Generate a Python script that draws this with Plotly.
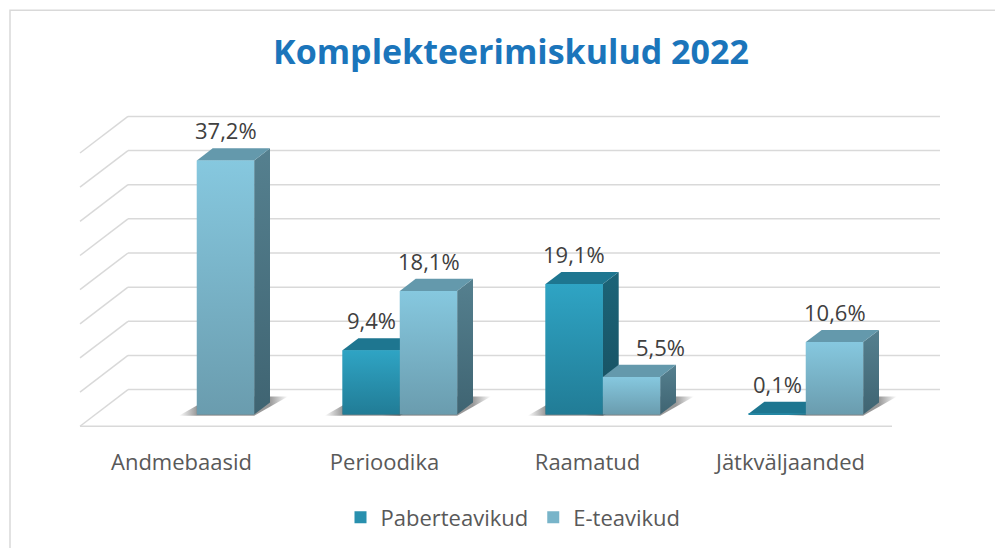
import plotly.graph_objects as go

# ---------------- data ----------------
categories = ["Andmebaasid", "Perioodika", "Raamatud", "Jätkväljaanded"]
paber = [None, 9.4, 19.1, 0.1]
e_teavikud = [37.2, 18.1, 5.5, 10.6]
series_names = ["Paberteavikud", "E-teavikud"]
grid_values = [0, 5, 10, 15, 20, 25, 30, 35, 40]
title_text = "Komplekteerimiskulud 2022"

# ---------------- geometry (pseudo 3D projection in axis units) ----------------
W, H = 1003, 548
OFF = 8                                  # page body margin
L, R, T, B = 60 - OFF, 960 - OFF, 100 - OFF, 439.5   # plot area in figure pixels
PX_CAT = 203.0                           # pixels per category
CAT0_PX = 181.5 - OFF                    # pixel x of first category (front plane)
PX_VAL = 6.84                            # pixels per value unit
ZERO_PX = 426.7 - OFF                    # pixel y of value 0 on front plane
DX = 48.0 / PX_CAT                       # full depth shift in category units
DY = 36.7 / PX_VAL                       # full depth shift in value units
T0, T1 = 0.32, 0.65                      # bar depth (front/back) as fraction of depth
BW = 57.3 / PX_CAT                       # bar width in category units
SH_X = 18.0 / PX_CAT                     # shadow spread (category units)
SH_Y = 6.0 / PX_VAL                      # shadow spread (value units)

xr = [(L - CAT0_PX) / PX_CAT, (R - CAT0_PX) / PX_CAT]
yr = [(ZERO_PX - B) / PX_VAL, (ZERO_PX - T) / PX_VAL]

def proj(x, v, t):
    return x + t * DX, v + t * DY

styles = {
    "Paberteavikud": dict(mid="#2890ae", front=("#217c96", "#2fa4c4"), top="#1e7690",
                          side=("#174f60", "#1c6478")),
    "E-teavikud": dict(mid="#78b4c9", front=("#6a9cae", "#86c8df"), top="#6499ac",
                       side=("#3f6472", "#55808f")),
}

fig = go.Figure()

# ---------------- walls / gridlines ----------------
shapes = []
grid_col = "#d9d9d9"
x_left, x_right = -0.5, len(categories) - 0.5
for v in grid_values:
    bx0, by = proj(x_left, v, 1)
    bx1, _ = proj(x_right, v, 1)
    shapes.append(dict(type="line", xref="x", yref="y", x0=bx0, y0=by, x1=bx1, y1=by,
                       line=dict(color=grid_col, width=1.5), layer="below"))
    fx, fy = proj(x_left, v, 0)
    shapes.append(dict(type="line", xref="x", yref="y", x0=fx, y0=fy, x1=bx0, y1=by,
                       line=dict(color=grid_col, width=1.5), layer="below"))
shapes.append(dict(type="line", xref="x", yref="y", x0=x_left, y0=0, x1=x_right, y1=0,
                   line=dict(color=grid_col, width=1.5), layer="below"))
# chart border
shapes.append(dict(type="rect", xref="paper", yref="paper",
                   x0=(2 - L) / (R - L), x1=(1010 - L) / (R - L),
                   y0=(B - 2) / (B - T), y1=(B - 560) / (B - T),
                   line=dict(color="#d9d9d9", width=1.5), layer="below"))

base = T0 * DY
ddx, ddy = (T1 - T0) * DX, (T1 - T0) * DY
all_vals = [paber, e_teavikud]

def bar_x0(s_idx, i):
    return i + T0 * DX - (BW if s_idx == 0 else 0)

# ---------------- bars: front faces as real bar traces ----------------
for s_idx, (name, vals) in enumerate(zip(series_names, all_vals)):
    fig.add_trace(go.Bar(
        x=list(range(len(categories))), y=vals, base=base, width=BW,
        offset=T0 * DX - BW if s_idx == 0 else T0 * DX,
        marker=dict(color=styles[name]["mid"], line=dict(width=0)),
        name=name, legendrank=s_idx,
        customdata=categories,
        hovertemplate="%{customdata}<br>" + name + ": %{y:.1f}%<extra></extra>"))

# ---------------- floor shadows (drawn first) ----------------
for s_idx, vals in enumerate(all_vals):
    for i, v in enumerate(vals):
        if v is None or v < 1:
            continue
        x0 = bar_x0(s_idx, i)
        x1 = x0 + BW
        sx0, sx1 = x0 - SH_X, x1 + ddx + SH_X
        f = SH_X / (sx1 - sx0)
        fig.add_trace(go.Scatter(
            x=[sx0, x1, sx1, x0 + ddx, sx0],
            y=[base - 0.2, base - 0.2, base + ddy + SH_Y, base + ddy + SH_Y, base - 0.2],
            mode="none", fill="toself",
            fillgradient=dict(type="horizontal", start=sx0, stop=sx1,
                              colorscale=[[0, "rgba(70,70,70,0)"],
                                          [f, "rgba(70,70,70,0.55)"],
                                          [1 - f, "rgba(70,70,70,0.55)"],
                                          [1, "rgba(70,70,70,0)"]]),
            showlegend=False, hoverinfo="skip"))

# ---------------- shading faces (side, top, gradient front) ----------------
annotations = []
for s_idx, (name, vals) in enumerate(zip(series_names, all_vals)):
    st = styles[name]
    for i, v in enumerate(vals):
        if v is None:
            continue
        x0 = bar_x0(s_idx, i)
        x1 = x0 + BW
        top = base + v
        fig.add_trace(go.Scatter(
            x=[x1, x1, x1 + ddx, x1 + ddx, x1], y=[base, top, top + ddy, base + ddy, base],
            mode="none", fill="toself",
            fillgradient=dict(type="vertical", start=base, stop=top + ddy,
                              colorscale=[[0, st["side"][0]], [1, st["side"][1]]]),
            showlegend=False, hoverinfo="skip"))
        fig.add_trace(go.Scatter(
            x=[x0, x1, x1 + ddx, x0 + ddx, x0], y=[top, top, top + ddy, top + ddy, top],
            mode="none", fill="toself", fillcolor=st["top"],
            showlegend=False, hoverinfo="skip"))
        fig.add_trace(go.Scatter(
            x=[x0, x1, x1, x0, x0], y=[base, base, top, top, base],
            mode="none", fill="toself",
            fillgradient=dict(type="vertical", start=base, stop=max(top, base + 0.01),
                              colorscale=[[0, st["front"][0]], [1, st["front"][1]]]),
            showlegend=False, hoverinfo="skip"))
        # data label; nudge right when the neighbouring paper bar is taller
        nudge = 0
        if s_idx == 1 and paber[i] is not None and paber[i] > v:
            nudge = 29
        annotations.append(dict(
            x=(x0 + x1) / 2, y=top + ddy, xref="x", yref="y",
            text=f"{v:.1f}".replace(".", ",") + "%", showarrow=False,
            xanchor="center", yanchor="bottom", xshift=nudge, yshift=1,
            font=dict(family="Open Sans", size=22, color="#404040")))

fig.update_layout(
    width=W, height=H,
    margin=dict(l=L, r=W - R, t=T, b=H - B),
    paper_bgcolor="white", plot_bgcolor="rgba(0,0,0,0)",
    title=dict(text=f"<b>{title_text}</b>", x=503 / W, xanchor="center",
               y=1 - 44 / H, yanchor="middle",
               font=dict(family="Open Sans", size=34, color="#1b75bb")),
    xaxis=dict(range=xr, showgrid=False, zeroline=False, showline=False,
               tickvals=list(range(len(categories))), ticktext=categories, ticks="",
               tickfont=dict(family="Open Sans", size=22, color="#595959"),
               fixedrange=True),
    yaxis=dict(range=yr, showgrid=False, zeroline=False, showline=False,
               showticklabels=False, fixedrange=True),
    legend=dict(orientation="h", x=(505 - L) / (R - L), xanchor="center",
                y=(B - 510) / (B - T), yanchor="middle",
                font=dict(family="Open Sans", size=22, color="#595959"),
                traceorder="normal", itemwidth=30),
    barmode="overlay",
    annotations=annotations,
    shapes=shapes,
    showlegend=True,
)

fig.write_html("out.html")
